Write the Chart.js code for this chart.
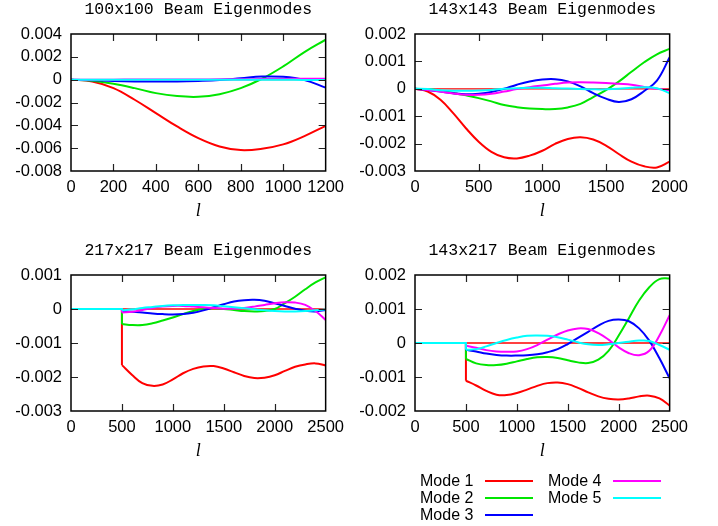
<!DOCTYPE html>
<html>
<head>
<meta charset="utf-8">
<script src="https://cdn.jsdelivr.net/npm/chart.js@4.4.1/dist/chart.umd.min.js"></script>
<style>
  body { margin: 0; background: #fff; }
  #page { position: relative; width: 718px; height: 526px; overflow: hidden; }
  canvas { position: absolute; }
  .lg-text { position: absolute; font: 16px "Liberation Sans", Arial, sans-serif; line-height: 18px; color: #000; white-space: nowrap; }
  .lg-line { position: absolute; height: 2px; width: 48px; }
</style>
</head>
<body>
<div id="page">
  <canvas id="c100" width="350" height="230" style="left:1px;top:0px"></canvas>
  <canvas id="c143" width="350" height="230" style="left:345px;top:0px"></canvas>
  <canvas id="c217" width="350" height="229" style="left:1px;top:241px"></canvas>
  <canvas id="cx" width="350" height="229" style="left:345px;top:241px"></canvas>
</div>
<script>
// ---- data ----
const modeNames = ['Mode 1', 'Mode 2', 'Mode 3', 'Mode 4', 'Mode 5'];

// 100x100, l = 0..1200
const ell100 = [0, 100, 200, 300, 400, 500, 600, 700, 800, 900, 1000, 1100, 1200];
const m1_100 = [0, -0.00016, -0.00074, -0.00176, -0.00293, -0.0041, -0.00512, -0.00585, -0.00617, -0.00605, -0.00567, -0.00494, -0.00405];
const m2_100 = [0, -0.0001, -0.00036, -0.00074, -0.00118, -0.00144, -0.0015, -0.00127, -0.00074, 0.00008, 0.00116, 0.00242, 0.0035];
const m3_100 = [0, -0.00005, -0.00011, -0.00015, -0.00017, -0.00016, -0.00011, -0.00003, 0.00012, 0.00027, 0.00025, -0.00003, -0.0007];
const m4_100 = [0, 0, 0, 0.00001, 0.00001, 0.00002, 0.00002, 0.00003, 0.00004, 0.00005, 0.00006, 0.00008, 0.00008];
const m5_100 = [0, 0, -0.00001, -0.00001, -0.00001, 0, 0, 0, 0, 0, -0.00001, -0.00002, -0.00003];

// 143x143, l = 0..2000
const ell143 = [0, 100, 200, 300, 400, 500, 600, 700, 800, 900, 1000, 1100, 1200, 1300, 1400, 1500, 1600, 1700, 1800, 1900, 2000];
const m1_143 = [0, -0.0001, -0.0004, -0.00089, -0.00144, -0.00193, -0.0023, -0.0025, -0.00254, -0.00244, -0.00226, -0.00201, -0.00183, -0.00177, -0.00185, -0.00207, -0.00238, -0.00266, -0.00283, -0.00287, -0.00266];
const m2_143 = [0, -0.00002, -0.00007, -0.00015, -0.00024, -0.00034, -0.00046, -0.00059, -0.00067, -0.00072, -0.00074, -0.00074, -0.00068, -0.00055, -0.0003, -0.00005, 0.00026, 0.00062, 0.00097, 0.00126, 0.00146];
const m3_143 = [0, -0.00004, -0.0001, -0.00016, -0.0002, -0.00018, -0.00012, 0, 0.00015, 0.00027, 0.00034, 0.00035, 0.00027, 0.00009, -0.00016, -0.00036, -0.00048, -0.00038, -0.00008, 0.0003, 0.00115];
const m4_143 = [0, -0.00004, -0.0001, -0.00017, -0.00022, -0.00022, -0.00018, -0.0001, -0.00001, 0.00006, 0.00012, 0.00018, 0.00023, 0.00024, 0.00023, 0.00021, 0.00018, 0.00015, 0.00007, 0, -0.00005];
const m5_143 = [0, -0.00001, -0.00005, -0.00007, -0.00007, -0.00006, -0.00004, 0, 0.00002, 0.00004, 0.00004, 0.00002, 0.00001, -0.00001, -0.00002, -0.00002, 0, 0.00004, 0.00006, 0.00002, -0.00016];

// 217x217 and 143x217: zero below l = 500, curves from 500..2500
const ellHigh = [500, 600, 700, 800, 900, 1000, 1100, 1200, 1300, 1400, 1500, 1600, 1700, 1800, 1900, 2000, 2100, 2200, 2300, 2400, 2500];
const m1_217 = [-0.00165, -0.00194, -0.00218, -0.00226, -0.00222, -0.00207, -0.00189, -0.00176, -0.00169, -0.00168, -0.00175, -0.00186, -0.00197, -0.00203, -0.00202, -0.00195, -0.00182, -0.0017, -0.00163, -0.0016, -0.00166];
const m2_217 = [-0.00044, -0.00047, -0.00047, -0.00042, -0.00034, -0.00025, -0.00015, -0.00006, 0, 0.00002, 0, -0.00003, -0.00006, -0.00007, -0.00006, 0, 0.00017, 0.00036, 0.00058, 0.00078, 0.00093];
const m3_217 = [-0.00006, -0.00008, -0.0001, -0.00013, -0.00015, -0.00016, -0.00015, -0.00011, -0.00004, 0.00005, 0.00014, 0.00022, 0.00026, 0.00027, 0.00024, 0.00017, 0.00009, 0.00001, -0.00005, -0.00007, -0.00003];
const m4_217 = [-0.0001, -0.00008, -0.00003, 0.00003, 0.00007, 0.00009, 0.00009, 0.00007, 0.00005, 0.00003, 0.00001, 0.00001, 0.00003, 0.00007, 0.00012, 0.00017, 0.0002, 0.00019, 0.00012, -0.00006, -0.00032];
const m5_217 = [-0.00004, -0.00001, 0.00003, 0.00006, 0.00009, 0.00011, 0.00012, 0.00012, 0.00012, 0.00011, 0.00008, 0.00005, 0.00002, -0.00001, -0.00004, -0.00006, -0.00007, -0.00007, -0.00006, -0.00004, -0.00001];

const m1_x = [-0.00111, -0.00125, -0.00141, -0.00152, -0.00153, -0.00147, -0.00137, -0.00126, -0.00118, -0.00116, -0.00121, -0.00132, -0.00145, -0.00157, -0.00164, -0.00166, -0.00163, -0.00157, -0.00155, -0.00163, -0.00184];
const m2_x = [-0.00047, -0.0006, -0.00065, -0.00065, -0.00061, -0.00054, -0.00047, -0.00042, -0.00041, -0.00044, -0.00051, -0.00057, -0.00059, -0.00049, -0.00023, 0.00022, 0.00073, 0.00125, 0.00164, 0.00188, 0.0019];
const m3_x = [-0.0002, -0.00025, -0.00031, -0.00035, -0.00037, -0.00037, -0.00036, -0.00033, -0.00027, -0.00018, -0.00003, 0.00015, 0.00033, 0.00051, 0.00065, 0.00069, 0.00064, 0.00043, 0.00007, -0.00045, -0.00104];
const m4_x = [-0.00008, -0.00014, -0.00021, -0.00025, -0.00026, -0.00025, -0.00018, -0.00006, 0.0001, 0.00025, 0.00037, 0.00043, 0.00041, 0.00029, 0.0001, -0.00013, -0.0003, -0.00036, -0.00023, 0.00022, 0.00082];
const m5_x = [-0.0002, -0.00018, -0.0001, 0, 0.00009, 0.00016, 0.00021, 0.00022, 0.00021, 0.00017, 0.0001, 0.00002, -0.00004, -0.00006, -0.00004, 0, 0.00004, 0.00007, 0.00006, -0.00006, -0.0002];

// ---- styling ----
const modeColors = ['#ff0000', '#00e600', '#0000ff', '#ff00ff', '#00ffff'];

Chart.defaults.font.family = '"Liberation Sans", Arial, sans-serif';
Chart.defaults.font.size = 16.5;
Chart.defaults.color = '#000';

// gnuplot style frame with inward ticks on all four sides
const framePlugin = {
    id: 'frame',
    afterDatasetsDraw(chart) {
        const { ctx, chartArea: a, scales } = chart;
        const x = scales.x, y = scales.y;
        ctx.save();
        ctx.strokeStyle = '#222';
        ctx.lineWidth = 1.2;
        ctx.beginPath();
        x.ticks.forEach(t => {
            if (t.value <= x.min || t.value >= x.max) return;
            const px = Math.round(x.getPixelForValue(t.value)) + 0.5;
            ctx.moveTo(px, a.bottom); ctx.lineTo(px, a.bottom - 7);
            ctx.moveTo(px, a.top); ctx.lineTo(px, a.top + 7);
        });
        y.ticks.forEach(t => {
            if (t.value <= y.min + 1e-12 || t.value >= y.max - 1e-12) return;
            const py = Math.round(y.getPixelForValue(t.value)) + 0.5;
            ctx.moveTo(a.left, py); ctx.lineTo(a.left + 7, py);
            ctx.moveTo(a.right, py); ctx.lineTo(a.right - 7, py);
        });
        ctx.stroke();
        ctx.strokeStyle = '#000';
        ctx.lineWidth = 1.5;
        ctx.strokeRect(a.left, a.top, a.right - a.left, a.bottom - a.top);
        ctx.restore();
    }
};

function makeChart(id, title, ells, modes, xMax, xStep, yMin, yMax, yStep, hasStep) {
    const datasets = [];
    // thin red zero line underneath
    datasets.push({
        data: [{ x: 0, y: 0 }, { x: xMax, y: 0 }],
        borderColor: '#ff0000', borderWidth: 1.3, pointRadius: 0, tension: 0, order: 20
    });
    modes.forEach((vals, i) => {
        if (hasStep) {
            datasets.push({
                data: [{ x: 0, y: 0 }, { x: ells[0], y: 0 }, { x: ells[0], y: vals[0] }],
                borderColor: modeColors[i], borderWidth: 2, pointRadius: 0, tension: 0,
                order: 10 - i
            });
        }
        datasets.push({
            label: modeNames[i],
            data: ells.map((l, k) => ({ x: l, y: vals[k] })),
            borderColor: modeColors[i], borderWidth: 2, pointRadius: 0, tension: 0.4,
            order: 10 - i
        });
    });

    return new Chart(document.getElementById(id), {
        type: 'line',
        data: { datasets: datasets },
        options: {
            responsive: false,
            animation: false,
            events: [],
            layout: { padding: { left: 0, right: 24, top: 0, bottom: 0 } },
            plugins: {
                legend: { display: false },
                tooltip: { enabled: false },
                title: {
                    display: true, text: title, fullSize: false,
                    font: { family: '"Liberation Mono", "Courier New", monospace', size: 16.5, weight: 'normal', lineHeight: 1.2 },
                    padding: { top: 0, bottom: 14.2 }
                }
            },
            scales: {
                x: {
                    type: 'linear', min: 0, max: xMax,
                    grid: { display: false, drawTicks: false },
                    border: { display: false },
                    ticks: { stepSize: xStep, padding: 7, maxRotation: 0, minRotation: 0, autoSkip: false, callback: v => String(v) },
                    title: {
                        display: true, text: 'l',
                        font: { family: '"Liberation Serif", serif', size: 18, style: 'italic' },
                        padding: { top: 0, bottom: 8 }
                    },
                    afterFit: s => { s.height = 59; }
                },
                y: {
                    type: 'linear', min: yMin, max: yMax,
                    grid: { display: false, drawTicks: false },
                    border: { display: false },
                    ticks: { stepSize: yStep, padding: 9, callback: v => String(Number(v.toFixed(4))) },
                    afterFit: s => { s.width = 70; }
                }
            }
        },
        plugins: [framePlugin]
    });
}

makeChart('c100', '100x100 Beam Eigenmodes', ell100, [m1_100, m2_100, m3_100, m4_100, m5_100], 1200, 200, -0.008, 0.004, 0.002, false);
makeChart('c143', '143x143 Beam Eigenmodes', ell143, [m1_143, m2_143, m3_143, m4_143, m5_143], 2000, 500, -0.003, 0.002, 0.001, false);
makeChart('c217', '217x217 Beam Eigenmodes', ellHigh, [m1_217, m2_217, m3_217, m4_217, m5_217], 2500, 500, -0.003, 0.001, 0.001, true);
makeChart('cx', '143x217 Beam Eigenmodes', ellHigh, [m1_x, m2_x, m3_x, m4_x, m5_x], 2500, 500, -0.002, 0.002, 0.001, true);

// legend below the lower right panel, two columns
const page = document.getElementById('page');
modeNames.forEach((name, i) => {
    const col = i < 3 ? 0 : 1;
    const row = i < 3 ? i : i - 3;
    const cy = 481 + row * 17;
    const t = document.createElement('div');
    t.className = 'lg-text';
    t.textContent = name;
    t.style.left = (420 + col * 128) + 'px';
    t.style.top = (cy - 9) + 'px';
    page.appendChild(t);
    const ln = document.createElement('div');
    ln.className = 'lg-line';
    ln.style.left = (485 + col * 128) + 'px';
    ln.style.top = (cy - 1) + 'px';
    ln.style.background = modeColors[i];
    page.appendChild(ln);
});
</script>
</body>
</html>
